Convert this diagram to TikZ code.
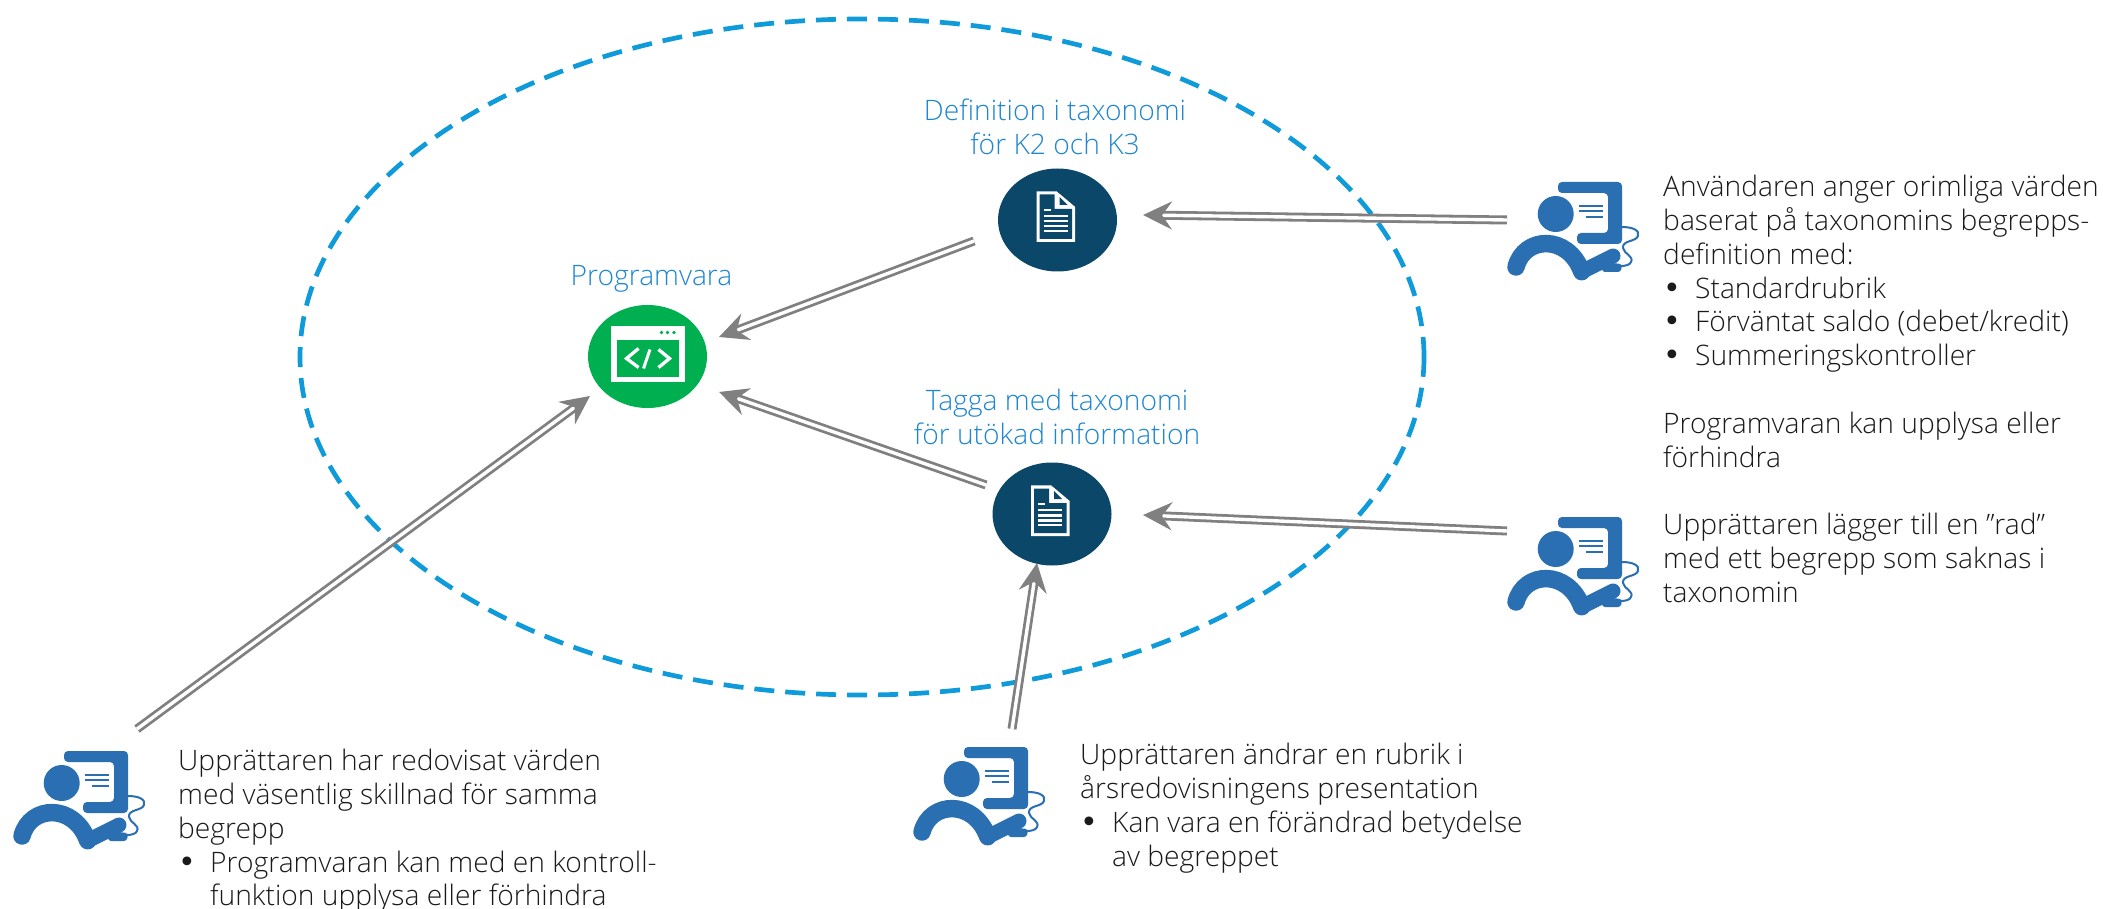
\documentclass[tikz,border=0pt]{standalone}
\usepackage{fontspec}
\setmainfont{Open Sans Light}
\newfontfamily\bulletfont{DejaVu Sans}
\usepackage{tikz}
\usetikzlibrary{arrows.meta, positioning, shapes.geometric, calc}
\definecolor{ringblue}{HTML}{0F9AD9}
\definecolor{labelblue}{HTML}{1F86D0}
\definecolor{userblue}{HTML}{2A6FB2}
\definecolor{docblue}{HTML}{0B4768}
\definecolor{appgreen}{HTML}{00B050}
\definecolor{flowgray}{HTML}{808080}
\definecolor{textgray}{HTML}{1A1A1A}
\tikzset{
	every node/.style={
		align=left,
		font=\fontsize{28.2}{33.8}\selectfont,
		text=textgray,
		inner sep=0pt,
	},
}
\tikzstyle{ring} = [draw=ringblue,dash pattern=on 20pt off 11pt,line width=4.7pt,ellipse,minimum width=1124pt,minimum height=676pt,inner sep=0pt]
\tikzstyle{doc} = [ellipse,fill=docblue,minimum width=119pt,minimum height=103pt,inner sep=0pt]
\tikzstyle{app} = [ellipse,fill=appgreen,minimum width=119pt,minimum height=103pt,inner sep=0pt]
\tikzstyle{bluetext} = [align=center,text=labelblue]
\tikzstyle{flow} = [draw=flowgray,double=white,line width=2.8pt,double distance=3.4pt,-{Stealth[length=29pt,width=28pt,inset=10pt,fill=flowgray]}]
\newcommand{\itm}{\makebox[32pt][l]{\bulletfont\fontsize{30}{33.8}\selectfont •}}
\newcommand{\itmcont}{\hspace{32pt}}
\tikzset{
	usericon/.pic={
		\fill[userblue,rounded corners=4pt] (78,42) -- (142,42) -- (142,104) -- (97,104) -- (97,93) -- (128,93) -- (128,53) -- (78,53) -- cycle;
		\fill[userblue] (75.7,74) circle (18);
		\draw[userblue,line width=1.8pt] (98.7,65.7) -- (123.3,65.7) (98.7,70.7) -- (123.3,70.7) (106,76.7) -- (123.3,76.7);
		\draw[userblue,line width=17.5pt,line cap=round] (36,127) .. controls (44,96) and (88,94) .. (101.7,131.7);
		\draw[userblue,line width=15pt,line cap=round] (101.7,131.7) -- (133,116);
		\fill[userblue,rounded corners=3pt] (122,122) -- (142,124) -- (141,132) -- (122,132) -- cycle;
		\draw[userblue,line width=2pt] (142,87) .. controls (152,87) and (160,90) .. (158,96) .. controls (156,102) and (142,100) .. (143,108) .. controls (144,114) and (154,116) .. (151,122) .. controls (150,125) and (145,126) .. (141,126);
	},
	docicon/.pic={
		\fill[white] (-21,-28.7) -- (-1,-28.7) -- (17.7,-13) -- (17.7,22) -- (-21,22) -- cycle;
		\fill[docblue] (-18,-25.5) -- (-3,-25.5) -- (-3,-11) -- (14.5,-11) -- (14.5,19) -- (-18,19) -- cycle;
		\fill[docblue] (2,-23) -- (2,-15) -- (10,-15) -- cycle;
		\draw[white,line width=2.4pt] (-14,-10) -- (-7,-10) (-14,-4) -- (10,-4) (-14,1.3) -- (10,1.3) (-14,6.3) -- (10,6.3) (-14,11) -- (10,11);
	},
	appicon/.pic={
		\fill[white] (-36.5,-31) rectangle (37,25);
		\fill[appgreen] (-30.5,-16.5) rectangle (31.5,20.5);
		\fill[appgreen] (14,-24) circle (1.9) (20,-24) circle (1.9) (26.5,-24) circle (1.9);
		\draw[white,line width=3.3pt] (-9,-8) -- (-21,2) -- (-9,11);
		\draw[white,line width=3.3pt] (11,-7) -- (22,2) -- (11,11);
		\draw[white,line width=3pt] (2.5,-7) -- (-4,12);
	},
}
\begin{document}
\begin{tikzpicture}[x=1pt,y=-1pt]
		\useasboundingbox (0,0) rectangle (2103,909);
		
		\node[ring] (scope) at (862,357) {};
		
		\node[app] (prog) at (647.5,356.5) {};
		\node[doc] (def) at (1057.5,220) {};
		\node[doc] (tag) at (1052,514) {};
		\pic at (prog) {appicon};
		\pic at (def) {docicon};
		\pic at (tag) {docicon};
		
		\node[bluetext,above=12pt of prog,xshift=4pt] (progl) {Programvara};
		\node[bluetext] (defl) at (1055,127) {Definition i taxonomi\\för K2 och K3};
		\node[bluetext] (tagl) at (1057,417) {Tagga med taxonomi\\för utökad information};
		
		\coordinate (user1) at (1480,140);
		\coordinate (user2) at (1480,475);
		\coordinate (user3) at (-14,709);
		\coordinate (user4) at (886,705);
		\pic at (user1) {usericon};
		\pic at (user2) {usericon};
		\pic at (user3) {usericon};
		\pic at (user4) {usericon};
		
		\coordinate (from1) at (1507,220);
		\coordinate (from2) at (1507,531);
		\coordinate (from3) at (137,729);
		\coordinate (from4) at (1012,729);
		\coordinate (into1) at (1143,215);
		\coordinate (into2) at (1143,515);
		\coordinate (into3) at (590,396);
		\coordinate (into4) at (1037,563);
		\coordinate (into5) at (719,337);
		\coordinate (into6) at (719,392);
		\coordinate (out5) at (974,241);
		\coordinate (out6) at (986,485);
		
		\draw[flow] (from1) -- (into1);
		\draw[flow] (from2) -- (into2);
		\draw[flow] (from3) -- (into3);
		\draw[flow] (from4) -- (into4);
		\draw[flow] (out5) -- (into5);
		\draw[flow] (out6) -- (into6);
		
		\node[anchor=north west] (textr) at (1663,175) {Användaren anger orimliga värden\\baserat på taxonomins begrepps-\\definition med:\\\itm Standardrubrik\\\itm Förväntat saldo (debet/kredit)\\\itm Summeringskontroller\\[33.8pt]Programvaran kan upplysa eller\\förhindra\\[33.8pt]Upprättaren lägger till en ”rad”\\med ett begrepp som saknas i\\taxonomin};
		\node[anchor=north west] (textl) at (178,749) {Upprättaren har redovisat värden\\med väsentlig skillnad för samma\\begrepp\\\itm Programvaran kan med en kontroll-\\\itmcont funktion upplysa eller förhindra};
		\node[anchor=north west] (textm) at (1080,743) {Upprättaren ändrar en rubrik i\\årsredovisningens presentation\\\itm Kan vara en förändrad betydelse\\\itmcont av begreppet};
		
	\end{tikzpicture}
\end{document}
